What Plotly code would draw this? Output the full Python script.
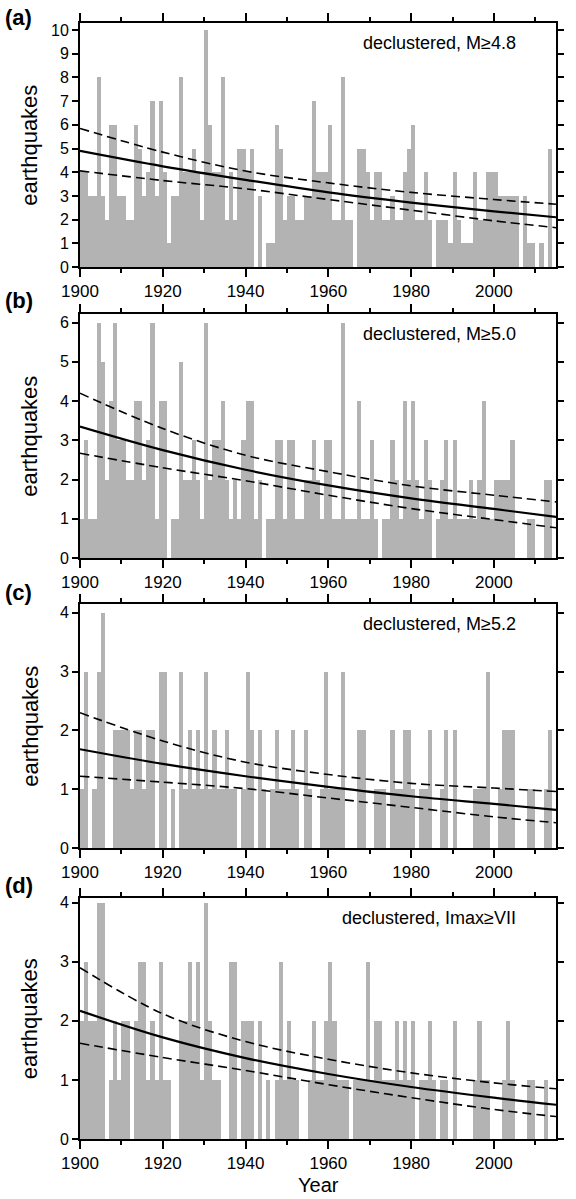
import plotly.graph_objects as go

years = list(range(1900, 2015))

counts_a = [4, 4, 3, 3, 8, 3, 2, 6, 6, 3,
            3, 2, 2, 6, 5, 3, 4, 7, 3, 7,
            4, 1, 3, 3, 8, 4, 4, 5, 4, 2,
            10, 6, 4, 4, 8, 2, 4, 2, 5, 5,
            4, 5, 0, 3, 0, 1, 1, 6, 5, 2,
            3, 3, 2, 2, 3, 3, 7, 4, 4, 4,
            6, 2, 2, 8, 2, 2, 0, 5, 5, 4,
            2, 4, 4, 2, 2, 3, 2, 2, 4, 5,
            6, 2, 2, 4, 2, 0, 2, 2, 2, 1,
            4, 2, 1, 1, 1, 4, 2, 2, 4, 4,
            4, 3, 3, 3, 3, 3, 0, 3, 1, 1,
            0, 1, 0, 5, 0]

counts_b = [1, 3, 1, 1, 6, 5, 2, 4, 6, 3,
            3, 2, 2, 4, 4, 2, 3, 6, 1, 4,
            4, 0, 1, 1, 5, 2, 2, 3, 2, 1,
            6, 2, 3, 3, 4, 2, 1, 2, 1, 3,
            4, 4, 1, 2, 0, 1, 1, 3, 3, 1,
            3, 3, 1, 1, 2, 2, 3, 2, 1, 3,
            3, 1, 1, 6, 1, 1, 1, 4, 1, 1,
            3, 1, 0, 1, 1, 3, 2, 1, 4, 2,
            4, 2, 1, 3, 2, 0, 1, 2, 3, 1,
            3, 1, 1, 1, 2, 1, 2, 4, 1, 1,
            2, 2, 2, 2, 3, 0, 0, 0, 1, 1,
            0, 0, 2, 2, 0]

counts_c = [1, 3, 0, 1, 3, 4, 0, 0, 2, 2,
            2, 2, 1, 2, 2, 1, 2, 2, 0, 3,
            3, 0, 1, 0, 3, 1, 2, 1, 2, 1,
            3, 1, 2, 1, 1, 2, 1, 1, 0, 1,
            3, 2, 0, 2, 1, 0, 1, 2, 1, 1,
            1, 2, 1, 0, 2, 1, 0, 0, 1, 3,
            1, 1, 1, 3, 0, 0, 0, 2, 2, 0,
            0, 1, 1, 1, 0, 2, 1, 1, 2, 2,
            1, 0, 1, 1, 2, 0, 0, 1, 2, 0,
            2, 0, 0, 0, 0, 1, 1, 1, 3, 0,
            0, 1, 2, 2, 2, 0, 0, 0, 1, 1,
            0, 0, 1, 2, 0]

counts_d = [2, 3, 2, 2, 4, 4, 0, 1, 2, 1,
            2, 2, 0, 2, 3, 3, 1, 2, 1, 3,
            1, 1, 0, 0, 2, 2, 3, 2, 3, 1,
            4, 2, 1, 1, 0, 0, 3, 3, 0, 2,
            2, 2, 0, 2, 0, 1, 0, 1, 3, 1,
            2, 1, 1, 0, 0, 1, 2, 1, 1, 2,
            3, 2, 1, 1, 1, 0, 1, 1, 1, 3,
            1, 2, 2, 1, 1, 1, 2, 1, 2, 1,
            2, 0, 1, 1, 2, 1, 0, 1, 1, 0,
            2, 0, 0, 0, 0, 1, 2, 1, 1, 0,
            0, 0, 1, 2, 1, 0, 0, 0, 1, 1,
            0, 0, 1, 0, 0]

fit_years = [1900, 1920, 1940, 1960, 1980, 2000, 2015]
fit_a = [4.9, 4.25, 3.68, 3.15, 2.72, 2.35, 2.1]
upper_a = [5.85, 4.85, 4.05, 3.55, 3.15, 2.85, 2.65]
lower_a = [4.06, 3.65, 3.3, 2.85, 2.4, 1.95, 1.66]
fit_b = [3.35, 2.75, 2.25, 1.85, 1.52, 1.25, 1.05]
upper_b = [4.2, 3.3, 2.62, 2.2, 1.84, 1.6, 1.43]
lower_b = [2.67, 2.3, 1.97, 1.6, 1.26, 0.98, 0.77]
fit_c = [1.68, 1.43, 1.22, 1.04, 0.88, 0.75, 0.65]
upper_c = [2.3, 1.82, 1.46, 1.25, 1.1, 1.02, 0.96]
lower_c = [1.22, 1.12, 1.01, 0.85, 0.69, 0.53, 0.43]
fit_d = [2.17, 1.72, 1.37, 1.1, 0.88, 0.7, 0.58]
upper_d = [2.9, 2.12, 1.65, 1.35, 1.12, 0.95, 0.85]
lower_d = [1.62, 1.38, 1.16, 0.92, 0.7, 0.5, 0.38]

panel_labels = ["(a)", "(b)", "(c)", "(d)"]
notes = ["declustered, M≥4.8", "declustered, M≥5.0",
         "declustered, M≥5.2", "declustered, Imax≥VII"]
x_ticks = [1900, 1920, 1940, 1960, 1980, 2000]
y_max = [10.3, 6.22, 4.15, 4.08]

counts = [counts_a, counts_b, counts_c, counts_d]
fits = [fit_a, fit_b, fit_c, fit_d]
uppers = [upper_a, upper_b, upper_c, upper_d]
lowers = [lower_a, lower_b, lower_c, lower_d]

W, H = 576, 1199
ML, MR, MT, MB = 80, 13, 23, 60
PH = H - MT - MB
tops = [23, 314, 604, 898]
bottoms = [267, 558, 848, 1139]
label_y = [18, 300, 592, 885]

FONT = "Liberation Sans, Arial, Helvetica, sans-serif"
BAR = "#b3b3b3"

def py2paper(py):
    return (H - MB - py) / PH

fig = go.Figure()
layout = dict(
    width=W, height=H,
    margin=dict(l=ML, r=MR, t=MT, b=MB),
    plot_bgcolor="white", paper_bgcolor="white",
    showlegend=False, bargap=0,
    font=dict(family=FONT, color="black", size=17),
)
annotations = []
for i in range(4):
    n = i + 1
    xa = "x" if n == 1 else f"x{n}"
    ya = "y" if n == 1 else f"y{n}"
    fig.add_trace(go.Bar(
        x=[y + 0.5 for y in years], y=counts[i], width=1.0,
        marker=dict(color=BAR, line=dict(width=0)),
        xaxis=xa, yaxis=ya, hoverinfo="skip"))
    for vals, dash, w in [(uppers[i], "9px,5px", 1.6), (lowers[i], "9px,5px", 1.6),
                          (fits[i], "solid", 2.2)]:
        fig.add_trace(go.Scatter(
            x=fit_years, y=vals, mode="lines",
            line=dict(color="black", width=w, dash=dash, shape="spline", smoothing=1.0),
            xaxis=xa, yaxis=ya, hoverinfo="skip"))
    layout[f"xaxis{'' if n == 1 else n}"] = dict(
        domain=[0, 1], anchor=ya, range=[1900, 2015],
        tickvals=x_ticks, ticks="outside", ticklen=8, tickwidth=1.5,
        tickcolor="black",
        minor=dict(tickvals=[1910, 1930, 1950, 1970, 1990, 2010],
                   ticks="outside", ticklen=4, tickwidth=1.5, tickcolor="black"),
        showline=True, linewidth=2, linecolor="black", mirror="ticks",
        showgrid=False, zeroline=False,
        tickfont=dict(size=17, family=FONT, color="black"))
    layout[f"yaxis{'' if n == 1 else n}"] = dict(
        domain=[py2paper(bottoms[i]), py2paper(tops[i])], anchor=xa,
        range=[0, y_max[i]], dtick=1, tick0=0,
        ticks="outside", ticklen=6, tickwidth=1.5, tickcolor="black",
        showline=True, linewidth=2, linecolor="black", mirror="ticks",
        showgrid=False, zeroline=False,
        tickfont=dict(size=16, family=FONT, color="black"))
    annotations.append(dict(
        text=notes[i], xref=f"{xa} domain", yref="paper",
        x=0.921, y=py2paper(tops[i] + 20), xanchor="right", yanchor="middle",
        showarrow=False, font=dict(size=18, family=FONT, color="black")))
    annotations.append(dict(
        text=f"<b>{panel_labels[i]}</b>", xref="paper", yref="paper",
        x=(2 - ML) / (W - ML - MR), y=py2paper(label_y[i]),
        xanchor="left", yanchor="middle",
        showarrow=False, font=dict(size=22, family=FONT, color="black")))
    annotations.append(dict(
        text="earthquakes", xref="paper", yref="paper",
        x=(29 - ML) / (W - ML - MR), y=py2paper((tops[i] + bottoms[i]) / 2),
        xanchor="center", yanchor="middle", textangle=-90,
        showarrow=False, font=dict(size=22, family=FONT, color="black")))

annotations.append(dict(
    text="Year", xref="paper", yref="paper",
    x=0.5, y=py2paper(1198), xanchor="center", yanchor="bottom",
    showarrow=False, font=dict(size=20, family=FONT, color="black")))
layout["annotations"] = annotations
fig.update_layout(**layout)
fig.write_html("out.html")
